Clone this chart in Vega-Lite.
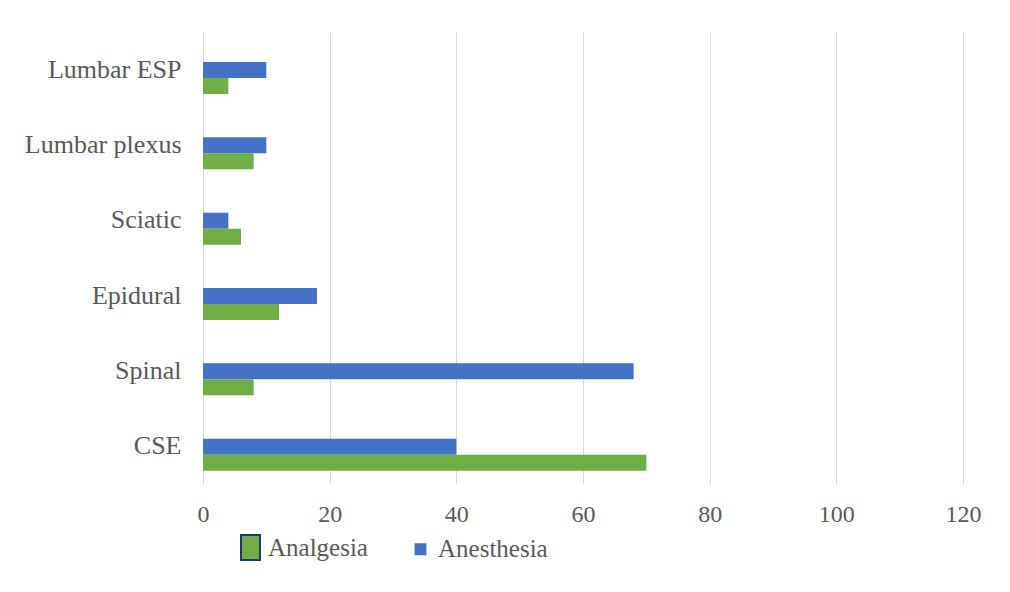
{
  "$schema": "https://vega.github.io/schema/vega-lite/v6.json",
  "width": 760,
  "height": 452,
  "autosize": {"type": "none"},
  "padding": {"left": 203, "top": 32, "right": 47, "bottom": 108},
  "background": "white",
  "config": {"view": {"stroke": null}, "font": "Liberation Serif"},
  "data": {
    "values": [
      {"method": "Lumbar ESP", "type": "Anesthesia", "value": 10},
      {"method": "Lumbar ESP", "type": "Analgesia", "value": 4},
      {"method": "Lumbar plexus", "type": "Anesthesia", "value": 10},
      {"method": "Lumbar plexus", "type": "Analgesia", "value": 8},
      {"method": "Sciatic", "type": "Anesthesia", "value": 4},
      {"method": "Sciatic", "type": "Analgesia", "value": 6},
      {"method": "Epidural", "type": "Anesthesia", "value": 18},
      {"method": "Epidural", "type": "Analgesia", "value": 12},
      {"method": "Spinal", "type": "Anesthesia", "value": 68},
      {"method": "Spinal", "type": "Analgesia", "value": 8},
      {"method": "CSE", "type": "Anesthesia", "value": 40},
      {"method": "CSE", "type": "Analgesia", "value": 70}
    ]
  },
  "mark": {"type": "bar"},
  "encoding": {
    "y": {
      "field": "method",
      "type": "nominal",
      "sort": ["Lumbar ESP", "Lumbar plexus", "Sciatic", "Epidural", "Spinal", "CSE"],
      "scale": {"paddingInner": 0, "paddingOuter": 0},
      "axis": {
        "title": null,
        "ticks": false,
        "domain": false,
        "labelFont": "Liberation Serif",
        "labelFontSize": 26,
        "labelLimit": 250,
        "labelColor": "#595959",
        "labelPadding": 22
      }
    },
    "yOffset": {
      "field": "type",
      "type": "nominal",
      "sort": ["Anesthesia", "Analgesia"],
      "scale": {"range": [30, 62], "paddingInner": 0, "paddingOuter": 0}
    },
    "x": {
      "field": "value",
      "type": "quantitative",
      "scale": {"domain": [0, 120], "nice": false},
      "axis": {
        "values": [0, 20, 40, 60, 80, 100, 120],
        "title": null,
        "ticks": false,
        "domain": false,
        "grid": true,
        "gridColor": "#d9d9d9",
        "gridWidth": 1,
        "labelFlush": false,
        "labelFont": "Liberation Serif",
        "labelFontSize": 24,
        "labelColor": "#595959",
        "labelPadding": 18
      }
    },
    "color": {
      "field": "type",
      "type": "nominal",
      "scale": {"domain": ["Analgesia", "Anesthesia"], "range": ["#70AD47", "#4472C4"]},
      "legend": {
        "title": null,
        "orient": "none",
        "legendX": 35,
        "legendY": 503,
        "direction": "horizontal",
        "labelFont": "Liberation Serif",
        "labelFontSize": 25,
        "labelColor": "#595959",
        "labelOffset": 5,
        "columnPadding": 40,
        "symbolOpacity": 1,
        "encode": {
          "symbols": {
            "update": {
              "shape": {"signal": "datum.value === 'Analgesia' ? 'M-0.76,-1V1H0.76V-1Z' : 'square'"},
              "size": {"signal": "datum.value === 'Analgesia' ? 625 : 144"},
              "stroke": {"signal": "datum.value === 'Analgesia' ? '#203864' : 'transparent'"},
              "strokeWidth": {"value": 2}
            }
          }
        }
      }
    }
  }
}
